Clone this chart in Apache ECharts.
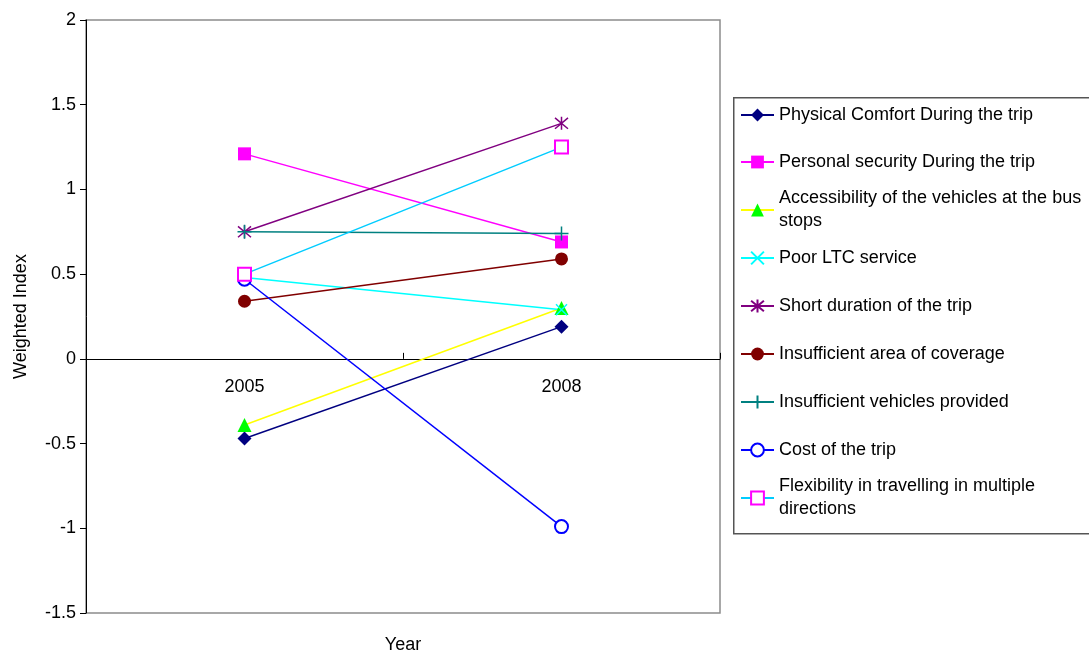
<!DOCTYPE html>
<html>
<head>
<meta charset="utf-8">
<script src="https://cdn.jsdelivr.net/npm/echarts@6/dist/echarts.min.js"></script>
<style>
  html, body { margin: 0; padding: 0; background: #fff; }
  #chart { width: 1089px; height: 652px; }
</style>
</head>
<body>
<div id="chart"></div>
<script>
// Survey years on the category axis
const years = ['2005', '2008'];

// Weighted index per factor, one value per year
const physicalComfort = [-0.47, 0.19];
const personalSecurity = [1.21, 0.69];
const accessibility = [-0.39, 0.30];
const poorLTC = [0.48, 0.29];
const shortDuration = [0.75, 1.39];
const insufficientArea = [0.34, 0.59];
const insufficientVehicles = [0.75, 0.74];
const costOfTrip = [0.47, -0.99];
const flexibility = [0.50, 1.25];

// Legend captions (wrapped where the box is too narrow)
const seriesNames = [
  'Physical Comfort During the trip',
  'Personal security During the trip',
  'Accessibility of the vehicles at the bus stops',
  'Poor LTC service',
  'Short duration of the trip',
  'Insufficient area of coverage',
  'Insufficient vehicles provided',
  'Cost of the trip',
  'Flexibility in travelling in multiple directions'
];
const legendCaptions = [
  'Physical Comfort During the trip',
  'Personal security During the trip',
  'Accessibility of the vehicles at the bus\nstops',
  'Poor LTC service',
  'Short duration of the trip',
  'Insufficient area of coverage',
  'Insufficient vehicles provided',
  'Cost of the trip',
  'Flexibility in travelling in multiple\ndirections'
];

const FONT = '"Liberation Sans", Arial, sans-serif';

// Marker glyphs drawn as stroked paths
const X_MARK = 'path://M0,0L10,10M10,0L0,10';
const STAR_MARK = 'path://M0,0L10,10M10,0L0,10M5,-1L5,11';
const PLUS_MARK = 'path://M5,0L5,10M0,5L10,5';

const styles = [
  { data: physicalComfort, line: '#000080', symbol: 'diamond', size: 14, item: { color: '#000080' } },
  { data: personalSecurity, line: '#FF00FF', symbol: 'rect', size: 13, item: { color: '#FF00FF' } },
  { data: accessibility, line: '#FFFF00', symbol: 'triangle', size: 14, item: { color: '#00FF00' } },
  { data: poorLTC, line: '#00FFFF', symbol: X_MARK, size: 11, item: { color: '#00FFFF', borderColor: '#00FFFF', borderWidth: 1.5 } },
  { data: shortDuration, line: '#800080', symbol: STAR_MARK, size: 13, item: { color: '#800080', borderColor: '#800080', borderWidth: 1.5 } },
  { data: insufficientArea, line: '#800000', symbol: 'circle', size: 13, item: { color: '#800000' } },
  { data: insufficientVehicles, line: '#008080', symbol: PLUS_MARK, size: 14, item: { color: '#008080', borderColor: '#008080', borderWidth: 1.5 } },
  { data: costOfTrip, line: '#0000FF', symbol: 'emptyCircle', size: 13, item: { color: '#0000FF', borderWidth: 1.5 } },
  { data: flexibility, line: '#00CCFF', symbol: 'emptyRect', size: 13, item: { color: '#FF00FF', borderWidth: 1.5 } }
];

const series = styles.map((s, i) => ({
  name: seriesNames[i],
  type: 'line',
  data: s.data,
  symbol: s.symbol,
  symbolSize: s.size,
  showAllSymbol: true,
  lineStyle: { color: s.line, width: 1.5 },
  itemStyle: s.item,
  emphasis: { disabled: true },
  animation: false
}));

// One legend block per entry so that wrapped captions keep a fixed row pitch
const legendCenters = [115, 162, 210, 258, 306, 354, 402, 450, 498];
const legends = seriesNames.map((name, i) => {
  const wrapped = legendCaptions[i].indexOf('\n') >= 0;
  return {
    data: [name],
    left: 740,
    top: legendCenters[i] - (wrapped ? 34.5 : 11.5),
    padding: 0,
    itemWidth: 33,
    itemHeight: 16,
    itemGap: 0,
    selectedMode: false,
    formatter: () => legendCaptions[i],
    textStyle: {
      fontFamily: FONT,
      fontSize: 18,
      color: '#000',
      lineHeight: 23,
      padding: wrapped ? [23, 0, 0, 0] : 0
    }
  };
});

// Year labels sit just under the zero line, well above the plot's lower edge
const PLOT_BOTTOM = 613;
const ZERO_LINE = 359;
const yearLabelMargin = (ZERO_LINE + 19) - PLOT_BOTTOM;

const chart = echarts.init(document.getElementById('chart'), null, { renderer: 'canvas' });
chart.setOption({
  backgroundColor: '#fff',
  animation: false,
  grid: {
    left: 86, top: 20, right: 369, bottom: 652 - PLOT_BOTTOM,
    containLabel: false,
    show: true, borderColor: '#8c8c8c', borderWidth: 1.5, backgroundColor: 'transparent'
  },
  xAxis: {
    type: 'category',
    data: years,
    boundaryGap: true,
    axisLine: { onZero: true, lineStyle: { color: '#000', width: 1 } },
    axisTick: { show: true, inside: true, length: 6, lineStyle: { color: '#000' } },
    axisLabel: { margin: yearLabelMargin, fontFamily: FONT, fontSize: 18, color: '#000' },
    splitLine: { show: false }
  },
  yAxis: {
    type: 'value',
    min: -1.5,
    max: 2,
    interval: 0.5,
    name: 'Weighted Index',
    nameLocation: 'middle',
    nameGap: 56,
    nameRotate: 90,
    nameTextStyle: { fontFamily: FONT, fontSize: 18, color: '#000' },
    axisLine: { show: true, lineStyle: { color: '#000', width: 1 } },
    axisTick: { show: true, inside: false, length: 6, lineStyle: { color: '#000' } },
    axisLabel: { margin: 10, fontFamily: FONT, fontSize: 18, color: '#000' },
    splitLine: { show: false }
  },
  legend: legends,
  graphic: [{
    type: 'rect',
    left: 733, top: 97,
    shape: { width: 400, height: 436 },
    style: { fill: 'transparent', stroke: '#555', lineWidth: 1.5 },
    z: -1,
    silent: true
  }, {
    type: 'text',
    x: 403, y: 645,
    style: {
      text: 'Year', font: '18px ' + FONT, fill: '#000',
      textAlign: 'center', textVerticalAlign: 'middle'
    },
    silent: true
  }],
  series: series
});
</script>
</body>
</html>
